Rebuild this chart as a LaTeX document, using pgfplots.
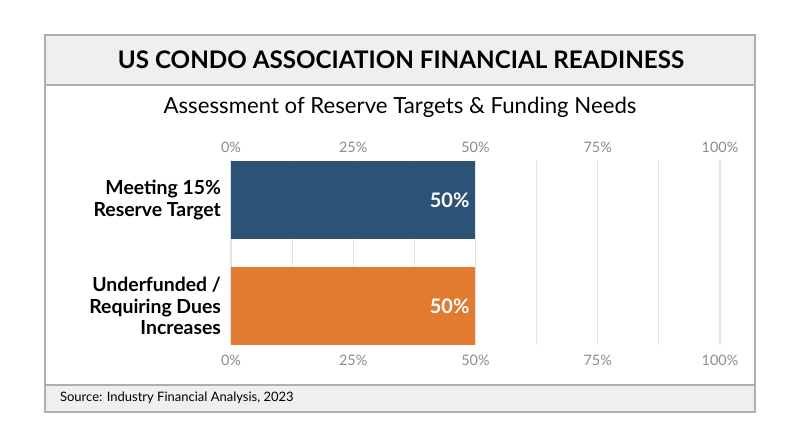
\documentclass[border=0pt]{standalone}
\usepackage{pgfplots}
\pgfplotsset{compat=1.18}
\usepackage{fontspec}
\setmainfont{Lato}
\definecolor{barblue}{HTML}{2D5277}
\definecolor{barorange}{HTML}{E07B30}
\definecolor{band}{HTML}{EFEFEF}
\definecolor{framec}{HTML}{AFAFAF}
\definecolor{tickgray}{HTML}{8C8C8C}
\definecolor{gridgray}{HTML}{E3E3E3}
\begin{document}
\begin{tikzpicture}[x=0.5pt,y=-0.5pt]
\useasboundingbox (0,0) rectangle (800,447);
\fill[white] (0,0) rectangle (800,447);
\fill[band] (45,35) rectangle (755,85);
\fill[band] (45,385) rectangle (755,412);
\draw[framec, line width=0.6pt] (45,35) rectangle (755,412);
\draw[framec, line width=0.6pt] (45,85) -- (755,85);
\draw[framec, line width=0.6pt] (45,385) -- (755,385);
\node[font=\bfseries\fontsize{12.1}{14}\selectfont] at (401,60) {US CONDO ASSOCIATION FINANCIAL READINESS};
\node[font=\fontsize{11.1}{13}\selectfont] at (400,107) {Assessment of Reserve Targets \& Funding Needs};
\node[anchor=west, font=\fontsize{6.5}{8}\selectfont] at (53,398) {Source: Industry Financial Analysis, 2023};

\pgfplotsset{common/.style={
  at={(115.5pt,-172.5pt)}, anchor=south west,
  scale only axis, width=244.5pt, height=92.5pt,
  xmin=0, xmax=100, ymin=-0.38, ymax=1.37, y dir=reverse,
  xtick={0,25,50,75,100},
  /pgf/number format/assume math mode=true,
  xticklabel={\pgfmathprintnumber{\tick}\%},
  xticklabel style={font=\fontsize{7.2}{8}\selectfont, text=tickgray},
  axis line style={draw=none}, major tick length=0pt, minor tick length=0pt,
  tick style={draw=none},
}}
\begin{axis}[common,
  xbar, bar width=39pt, bar shift=0pt,
  ytick={0,1},
  yticklabels={{Meeting 15\%\\Reserve Target},{Underfunded /\\Requiring Dues\\Increases}},
  yticklabel style={font=\bfseries\fontsize{9.7}{10.8}\selectfont, align=right, xshift=-1.5pt},
  minor xtick={12.5,37.5,62.5,87.5},
  xmajorgrids, xminorgrids,
  major grid style={gridgray, line width=0.6pt},
  minor grid style={gridgray, line width=0.6pt},
  xticklabel pos=lower,
  xticklabel style={yshift=-1.5pt},
  point meta=x,
  nodes near coords={\pgfmathprintnumber{\pgfplotspointmeta}\%},
  nodes near coords style={anchor=east, text=white, font=\bfseries\fontsize{10}{11}\selectfont, xshift=0.5pt},
]
\addplot[fill=barblue, draw=none] coordinates {(50,0)};
\addplot[fill=barorange, draw=none] coordinates {(50,1)};
\end{axis}
\begin{axis}[common, xticklabel pos=upper, ytick=\empty]
\addplot[draw=none] coordinates {(0,0)};
\end{axis}
\end{tikzpicture}
\end{document}
